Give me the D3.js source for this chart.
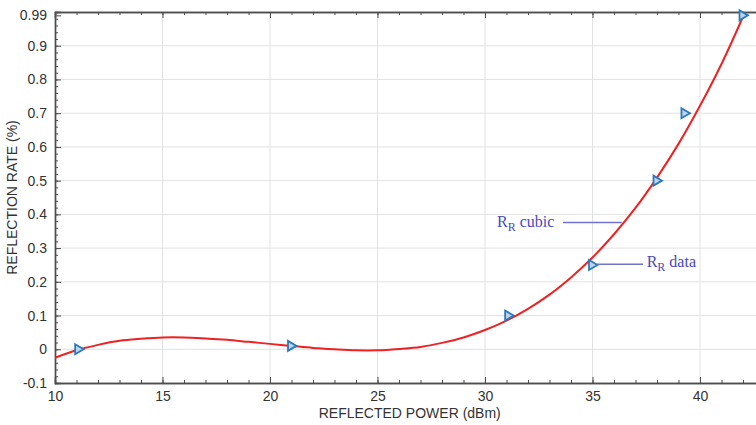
<!DOCTYPE html>
<html>
<head>
<meta charset="utf-8">
<script src="https://cdn.jsdelivr.net/npm/d3@7"></script>
<style>
  body { margin: 0; background: #fff; }
  svg { display: block; font-family: Arial, "Liberation Sans", sans-serif; }
</style>
</head>
<body>
<svg id="svg" width="756" height="425"></svg>
<script>
// measured points (triangles)
const dataPower = [11.1, 21, 31.1, 35, 38, 39.3, 42];
const dataRate = [0, 0.01, 0.1, 0.25, 0.5, 0.7, 0.99];

// cubic fit curve
const cubicPower = [10, 11, 12, 13, 14, 15, 16, 17, 18, 19, 20, 21, 22, 23, 24, 25, 26,
  27, 28, 29, 30, 31, 32, 33, 34, 35, 36, 37, 38, 39, 40, 41, 42];
const cubicRate = [-0.025, -0.003, 0.013, 0.025, 0.031, 0.035, 0.035, 0.032, 0.028, 0.022, 0.016,
  0.010, 0.004, 0.000, -0.003, -0.003, 0.001, 0.007, 0.019, 0.035, 0.057, 0.085, 0.120, 0.162,
  0.213, 0.272, 0.341, 0.419, 0.509, 0.609, 0.722, 0.846, 0.986];

const xTicks = [10, 15, 20, 25, 30, 35, 40];
const yTicks = [-0.1, 0, 0.1, 0.2, 0.3, 0.4, 0.5, 0.6, 0.7, 0.8, 0.9, 0.99];
const xTitle = 'REFLECTED POWER (dBm)';
const yTitle = 'REFLECTION RATE (%)';

const svg = d3.select('#svg');
const mLeft = 55, mTop = 12, mBottom = 383, mRight = 764.5;

const x = d3.scaleLinear().domain([10, 43]).range([mLeft, mRight]);
const y = d3.scaleLinear().domain([-0.1, 1.0]).range([mBottom, mTop]);

const axisColor = '#4d4d4d';
const textColor = '#333';

// grid
svg.append('g').
selectAll('line').
data(xTicks.slice(1)).
enter().
append('line').
attr('x1', d => x(d)).
attr('x2', d => x(d)).
attr('y1', mTop).
attr('y2', mBottom).
attr('stroke', '#e2e2e2').
attr('stroke-width', 1);

svg.append('g').
selectAll('line').
data(yTicks.filter(d => d > -0.1 && d < 0.95)).
enter().
append('line').
attr('x1', mLeft).
attr('x2', mRight).
attr('y1', d => y(d)).
attr('y2', d => y(d)).
attr('stroke', '#e2e2e2').
attr('stroke-width', 1);

// axes (ticks pointing inward, like matlab)
const xMinor = d3.range(10, 44, 1);
const yMinor = d3.range(-0.1, 1.0, 0.02);

const bottomAxis = svg.append('g').attr('transform', `translate(0,${mBottom})`);
bottomAxis.call(d3.axisBottom(x).tickValues(xMinor).tickSize(-3).tickFormat(''));
bottomAxis.append('g').call(d3.axisBottom(x).tickValues(xTicks).tickSize(-6).tickPadding(8).tickFormat(d3.format('d')));

const topAxis = svg.append('g').attr('transform', `translate(0,${mTop})`);
topAxis.call(d3.axisTop(x).tickValues(xMinor).tickSize(-3).tickFormat(''));
topAxis.append('g').call(d3.axisTop(x).tickValues(xTicks).tickSize(-6).tickFormat(''));

const leftAxis = svg.append('g').attr('transform', `translate(${mLeft},0)`);
leftAxis.call(d3.axisLeft(y).tickValues(yMinor).tickSize(-3).tickFormat(''));
leftAxis.append('g').call(d3.axisLeft(y).tickValues(yTicks).tickSize(-6).tickPadding(8).tickFormat(d => String(+d.toFixed(2))));

svg.selectAll('.domain').attr('stroke', axisColor).attr('stroke-width', 1.4);
svg.selectAll('.tick line').attr('stroke', axisColor).attr('stroke-width', 1);
svg.selectAll('.tick text').attr('fill', textColor).style('font-size', '14px');

// axis titles
svg.append('text').
attr('x', (mLeft + mRight) / 2).
attr('y', 418).
attr('text-anchor', 'middle').
attr('fill', textColor).
style('font-size', '14px').
text(xTitle);

svg.append('text').
attr('transform', `translate(17,${(mTop + mBottom) / 2}) rotate(-90)`).
attr('text-anchor', 'middle').
attr('fill', textColor).
style('font-size', '14px').
text(yTitle);

// cubic curve
const line = d3.line().
x(d => x(d[0])).
y(d => y(d[1])).
curve(d3.curveCatmullRom);

svg.append('path').
datum(cubicPower.map((p, i) => [p, cubicRate[i]])).
attr('d', line).
attr('fill', 'none').
attr('stroke', '#ee2222').
attr('stroke-width', 2);

// data markers
svg.append('g').
selectAll('path').
data(dataPower.map((p, i) => [p, dataRate[i]])).
enter().
append('path').
attr('transform', d => `translate(${x(d[0])},${y(d[1])})`).
attr('d', 'M-3.5,-5L5,0L-3.5,5Z').
attr('fill', '#bcd5ea').
attr('stroke', '#2a7bbd').
attr('stroke-width', 1.8).
attr('stroke-linejoin', 'miter');

// annotations, placed in data units
const notes = [
  { label: 'cubic', text: [30.56, 0.364], from: [33.63, 0.376], to: [36.36, 0.376] },
  { label: 'data', text: [37.52, 0.245], from: [35.2, 0.252], to: [37.35, 0.252] }];

notes.forEach(n => {
  svg.append('line').
  attr('x1', x(n.from[0])).
  attr('x2', x(n.to[0])).
  attr('y1', y(n.from[1])).
  attr('y2', y(n.to[1])).
  attr('stroke', '#7272cc').
  attr('stroke-width', 1.5);

  const t = svg.append('text').
  attr('x', x(n.text[0])).
  attr('y', y(n.text[1])).
  attr('fill', '#4848c4').
  style('font-family', '"Liberation Serif", "Times New Roman", serif').
  style('font-size', '16px');
  t.append('tspan').text('R');
  t.append('tspan').attr('dy', 4).style('font-size', '12px').text('R');
  t.append('tspan').attr('dy', -4).text(' ' + n.label);
});
</script>
</body>
</html>
